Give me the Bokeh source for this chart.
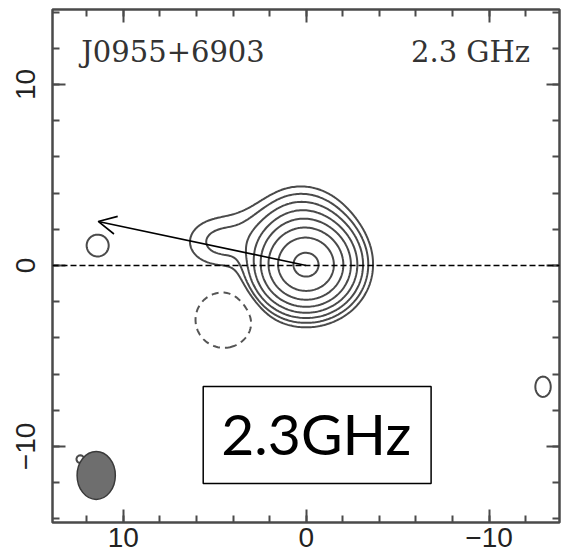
import numpy as np
from bokeh.plotting import figure
from bokeh.models import Range1d, LinearAxis, SingleIntervalTicker, Span, Arrow, OpenHead
from bokeh.core.properties import value
from bokeh.embed import file_html
from bokeh.resources import INLINE

# Gaussian components of the brightness model (offsets in mas, amplitude relative to peak)
comp_name = ["core", "halo", "bridge", "east knot", "ne spot", "sw spot", "beam spot", "negative"]
comp_x = [0.0, 0.3, 3.0, 4.6, 11.4, -12.95, 12.35, 4.5]
comp_y = [0.0, 1.5, 2.2, 1.3, 1.1, -6.7, -10.7, -3.0]
comp_amp = [0.95, 0.07, 0.004, 0.016, 0.0075, 0.0072, 0.0066, -0.0174]
comp_sx = [1.15, 1.3, 0.9, 1.3, 1.1, 0.9, 1.0, 1.1]
comp_sy = [1.08, 1.3, 0.9, 0.95, 1.1, 1.2, 1.0, 1.1]

# contour levels (doubling) and the negative contour
pos_levels = [0.00645, 0.0129, 0.0258, 0.0516, 0.103, 0.207, 0.413, 0.826]
neg_levels = [-0.00645]

# restoring beam (centre, FWHM extents in mas)
beam_x, beam_y = [11.48], [-11.6]
beam_w, beam_h = 2.09, 2.65

# direction arrow
arrow_start = (0.0, 0.0)
arrow_end = (11.37, 2.43)

tick_vals = [-10, 0, 10]
tick_labels = ["\u221210", "0", "10"]

source_name = "J0955+6903"
band_name = "2.3 GHz"
box_label = "2.3GHz"

grid_x = np.linspace(-15, 15, 361)
grid_y = np.linspace(-15, 15, 361)
gx, gy = np.meshgrid(grid_x, grid_y)
img = np.zeros_like(gx)
for cx, cy, a, sx, sy in zip(comp_x, comp_y, comp_amp, comp_sx, comp_sy):
    img += a * np.exp(-((gx - cx) ** 2 / (2 * sx ** 2) + (gy - cy) ** 2 / (2 * sy ** 2)))

p = figure(width=562, height=560,
           x_range=Range1d(13.87, -13.85), y_range=Range1d(-14.2, 14.14),
           output_backend="svg", toolbar_location=None,
           min_border_left=52, min_border_right=3, min_border_top=9, min_border_bottom=38)
p.grid.visible = False
p.outline_line_color = "#4a4a4a"
p.outline_line_width = 2.5
p.background_fill_color = "white"
p.border_fill_color = "white"

bottom_axis = p.below[0]
left_axis = p.left[0]
top_axis = LinearAxis()
right_axis = LinearAxis()
p.add_layout(top_axis, "above")
p.add_layout(right_axis, "right")

for ax in [bottom_axis, left_axis, top_axis, right_axis]:
    ax.ticker = SingleIntervalTicker(interval=10, num_minor_ticks=5)
    ax.axis_line_color = None
    ax.major_tick_in = 13
    ax.major_tick_out = 0
    ax.minor_tick_in = 7
    ax.minor_tick_out = 0
    ax.major_tick_line_color = "#4a4a4a"
    ax.minor_tick_line_color = "#4a4a4a"
    ax.major_tick_line_width = 2
    ax.minor_tick_line_width = 2
    ax.major_label_text_font = "Liberation Sans"
    ax.major_label_text_color = "#222222"

for ax in [bottom_axis, left_axis]:
    ax.major_label_overrides = dict(zip(tick_vals, tick_labels))
    ax.major_label_text_font_size = "28px"

# mirrored tick marks on the top and right edges carry no labels
for ax in [top_axis, right_axis]:
    ax.major_label_overrides = {v: "" for v in tick_vals}
    ax.major_label_text_font_size = "1px"
    ax.major_label_standoff = 0

bottom_axis.major_label_standoff = 5
left_axis.major_label_standoff = 17
left_axis.major_label_orientation = "vertical"

# reference line through the core
p.add_layout(Span(location=0, dimension="width", line_color="black",
                  line_width=1.5, line_dash="6 3"))

p.contour(grid_x, grid_y, img, levels=pos_levels,
          line_color="#4a4a4a", line_width=2.0)
p.contour(grid_x, grid_y, img, levels=neg_levels,
          line_color="#555555", line_width=2.0, line_dash="7 5")

p.ellipse(x=beam_x, y=beam_y, width=beam_w, height=beam_h,
          fill_color="#6e6e6e", line_color="#3a3a3a", line_width=1.5)

p.add_layout(Arrow(end=OpenHead(size=18, line_width=1.6, line_color="black"),
                   x_start=arrow_start[0], y_start=arrow_start[1],
                   x_end=arrow_end[0], y_end=arrow_end[1],
                   line_width=1.6, line_color="black"))

p.text(x=[12.3], y=[11.8], text=[source_name], text_font=value("DejaVu Serif"),
       text_font_size="29px", text_align="left", text_baseline="alphabetic",
       text_color="#333333")
p.text(x=[-12.24], y=[11.8], text=[band_name], text_font=value("DejaVu Serif"),
       text_font_size="29px", text_align="right", text_baseline="alphabetic",
       text_color="#333333")

p.quad(left=[5.63], right=[-6.83], top=[-6.69], bottom=[-12.04],
       fill_color="white", line_color="black", line_width=1.5)
p.text(x=[-0.55], y=[-9.28], text=[box_label], text_font=value("Lato"),
       text_font_size="57px", text_align="center", text_baseline="alphabetic",
       text_color="black")

open("out.html", "w").write(file_html(p, INLINE))
